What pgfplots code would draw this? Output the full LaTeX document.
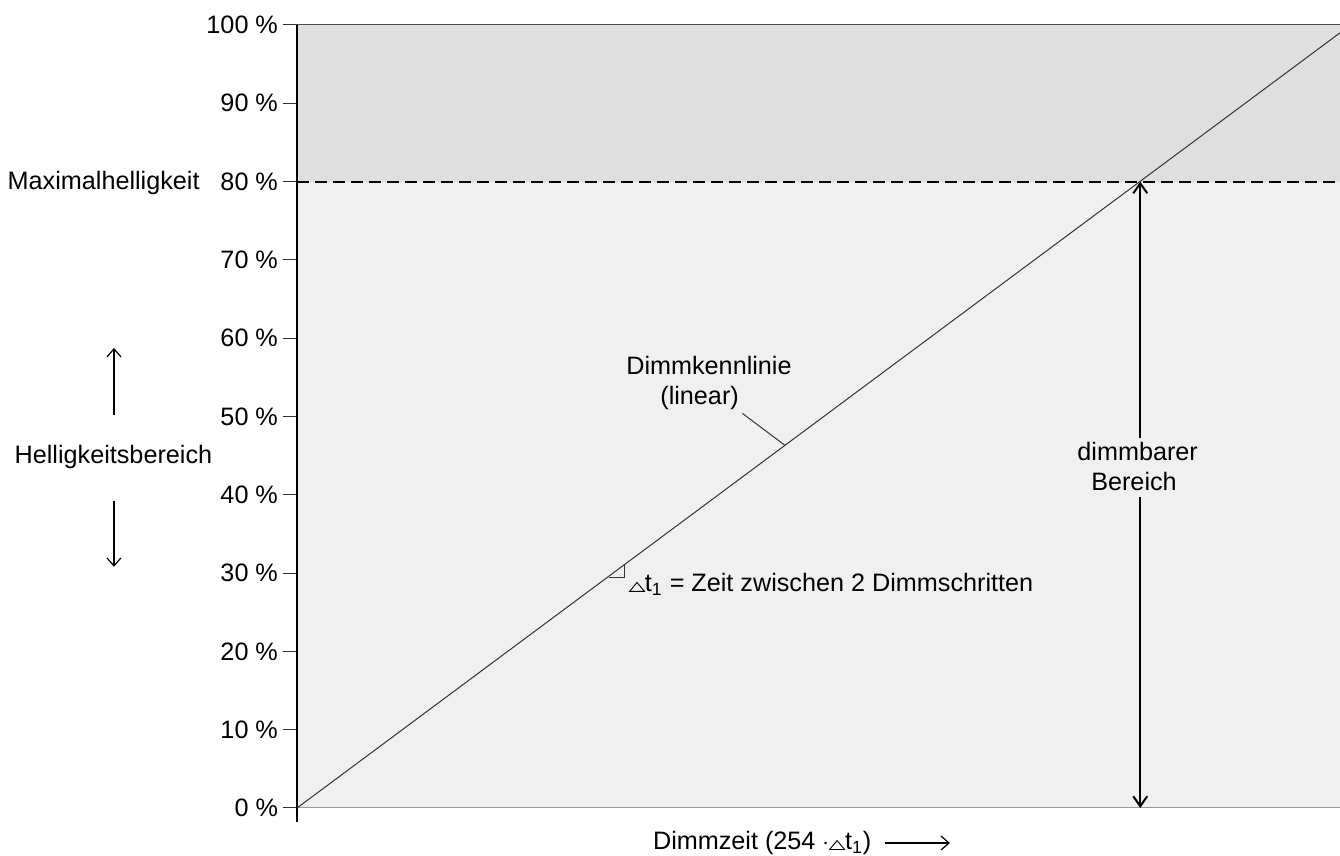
\documentclass[border=0pt]{standalone}
\usepackage{pgfplots}
\pgfplotsset{compat=1.18}
\usepackage{fontspec}
\setmainfont{Liberation Sans}
\usetikzlibrary{arrows.meta}
\definecolor{upperfill}{HTML}{DFDFDF}
\definecolor{lowerfill}{HTML}{F0F0F0}
\newsavebox\tribox
\begin{document}
\sbox\tribox{\tikz\draw[line width=0.45pt] (0,0)--(7.5pt,0)--(3.75pt,4.5pt)--cycle;}%
\newcommand\tri{\usebox\tribox}%
\begin{tikzpicture}[font=\fontsize{12.6}{15}\selectfont]
\path[use as bounding box] (-148.5pt,-24pt) rectangle (521.5pt,404pt);
\begin{axis}[
  at={(0,0)}, anchor=south west,
  scale only axis, width=521.5pt, height=391.5pt,
  xmin=0, xmax=100, ymin=0, ymax=100,
  axis x line=none, axis y line=left,
  y axis line style={draw=none},
  ytick={0,10,...,100}, tick align=outside, major tick length=7pt,
  ytick style={black!80, line width=0.5pt},
  yticklabel={\pgfmathprintnumber{\tick}~\%},
  yticklabel style={font=\fontsize{12.6}{15}\selectfont, xshift=1pt},
  /pgf/number format/assume math mode=true,
  clip=false,
]
% background areas
\addplot[draw=none, fill=lowerfill] coordinates {(0,0) (100,0) (100,80) (0,80)} -- cycle;
\addplot[draw=none, fill=upperfill] coordinates {(0,80) (100,80) (100,100) (0,100)} -- cycle;
% frame lines
\addplot[black!70, line width=0.5pt] coordinates {(0,100) (100,100)};
\addplot[gray!80, line width=0.5pt] coordinates {(0,0) (100,0)};
\addplot[black, line width=1pt] coordinates {(0,-1.75) (0,100)};
% dashed maximum
\addplot[black, line width=1pt, dash pattern=on 6pt off 3pt] coordinates {(0,80) (100,80)};
% characteristic line
\addplot[black!80, line width=0.5pt] coordinates {(0,0) (100,99)};
% dimmable range arrow
\addplot[black, line width=1pt, {Straight Barb[length=5pt,width=7pt]}-{Straight Barb[length=5pt,width=7pt]}] coordinates {(80.85,0) (80.85,80)};
% leader line
\addplot[black!80, line width=0.5pt] coordinates {(42.7,50.4) (46.8,46.3)};
% step marker
\addplot[black!80, line width=0.5pt] coordinates {(29.9,29.5) (31.4,29.5) (31.4,31.1)};
% Helligkeitsbereich arrows
\addplot[black, line width=0.6pt, -{Straight Barb[length=4pt,width=7pt]}] coordinates {(-17.55,50.2) (-17.55,58.75)};
\addplot[black, line width=0.6pt, -{Straight Barb[length=4pt,width=7pt]}] coordinates {(-17.55,39.2) (-17.55,30.8)};
% x label arrow
\addplot[black, line width=0.6pt, -{Straight Barb[length=4pt,width=7pt]}] coordinates {(56.4,-4.47) (62.6,-4.47)};

\node[anchor=base east, inner sep=0pt] at (axis cs:-9.3,79.05) {Maximalhelligkeit};
\node[anchor=base, inner sep=0pt] at (axis cs:-17.6,44.06) {Helligkeitsbereich};
\node[anchor=base, inner sep=0pt] at (axis cs:39.5,55.3) {Dimmkennlinie};
\node[anchor=base, inner sep=0pt] at (axis cs:38.6,51.5) {(linear)};
\node[anchor=base west, inner sep=0pt] at (axis cs:31.8,27.6) {\tri t\textsubscript{1} = Zeit zwischen 2 Dimmschritten};
\fill[lowerfill] (axis cs:78,39.7) rectangle (axis cs:83,47.2);
\node[anchor=base, inner sep=0pt] at (axis cs:80.6,44.35) {dimmbarer};
\node[anchor=base, inner sep=0pt] at (axis cs:80.25,40.5) {Bereich};
\node[anchor=base west, inner sep=0pt] at (axis cs:34.1,-5.36) {Dimmzeit (254 $\cdot$\tri t\textsubscript{1})};
\end{axis}
\end{tikzpicture}
\end{document}
